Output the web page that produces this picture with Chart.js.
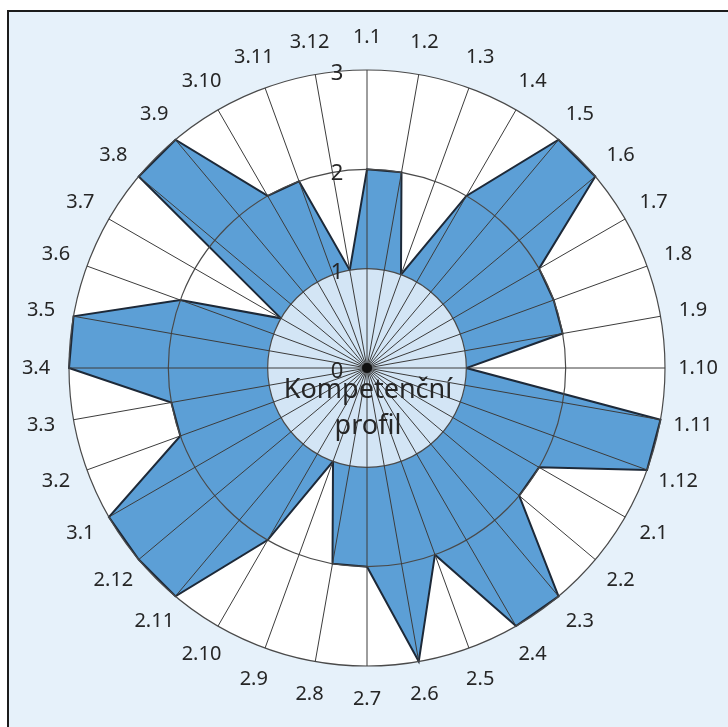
<!DOCTYPE html>
<html>
<head>
<meta charset="utf-8">
<script src="https://cdn.jsdelivr.net/npm/chart.js@4.4.1/dist/chart.umd.min.js"></script>
<style>
  html, body { margin: 0; padding: 0; background: #fff; }
  canvas { display: block; }
</style>
</head>
<body>
<canvas id="profil" width="728" height="727"></canvas>
<script>
// competence codes, clockwise from the top
const categories = [
  "1.1", "1.2", "1.3", "1.4", "1.5", "1.6", "1.7", "1.8", "1.9", "1.10", "1.11", "1.12",
  "2.1", "2.2", "2.3", "2.4", "2.5", "2.6", "2.7", "2.8", "2.9", "2.10", "2.11", "2.12",
  "3.1", "3.2", "3.3", "3.4", "3.5", "3.6", "3.7", "3.8", "3.9", "3.10", "3.11", "3.12"
];
const scores = [
  2, 2, 1, 2, 3, 3, 2, 2, 2, 1, 3, 3,
  2, 2, 3, 3, 2, 3, 2, 2, 1, 2, 3, 3,
  3, 2, 2, 3, 3, 2, 1, 3, 3, 2, 2, 1
];
const tickValues = [0, 1, 2, 3];
const centerTitle = ["Kompetenční", "profil"];

const textColor = "#262626";

// background, inner disc and all the text round the scale
const decorPlugin = {
  id: "decor",
  beforeDraw(chart) {
    const ctx = chart.ctx;
    const r = chart.scales.r;
    ctx.save();
    ctx.fillStyle = "#ffffff";
    ctx.fillRect(0, 0, chart.width, chart.height);
    ctx.fillStyle = "#e6f1fa";
    ctx.fillRect(8, 11, chart.width - 8, chart.height - 11);
    ctx.strokeStyle = "#1c1c1c";
    ctx.lineWidth = 2;
    ctx.beginPath();
    ctx.moveTo(8, chart.height);
    ctx.lineTo(8, 11);
    ctx.lineTo(chart.width, 11);
    ctx.stroke();
    ctx.fillStyle = "#ffffff";
    ctx.beginPath();
    ctx.arc(r.xCenter, r.yCenter, r.drawingArea, 0, Math.PI * 2);
    ctx.fill();
    ctx.restore();
  },
  afterDatasetsDraw(chart) {
    const ctx = chart.ctx;
    const r = chart.scales.r;
    ctx.save();
    ctx.fillStyle = "#d3e5f5";
    ctx.beginPath();
    ctx.arc(r.xCenter, r.yCenter, r.getDistanceFromCenterForValue(1), 0, Math.PI * 2);
    ctx.fill();
    ctx.restore();
  },
  afterDraw(chart) {
    const ctx = chart.ctx;
    const r = chart.scales.r;
    ctx.save();
    ctx.fillStyle = textColor;
    ctx.textAlign = "center";
    ctx.textBaseline = "middle";

    // category labels
    ctx.font = "20px 'Noto Sans'";
    categories.forEach((lab, i) => {
      const p = r.getPointPosition(i, r.drawingArea + 33);
      ctx.fillText(lab, p.x, p.y);
    });

    // value labels, a little left of the vertical spoke
    ctx.font = "22px 'Noto Sans'";
    tickValues.forEach(v => {
      const d = r.getDistanceFromCenterForValue(v);
      ctx.fillText(String(v), r.xCenter - 30, r.yCenter - d + 4);
    });

    // hub
    ctx.fillStyle = "#111";
    ctx.beginPath();
    ctx.arc(r.xCenter, r.yCenter, 5, 0, Math.PI * 2);
    ctx.fill();

    ctx.fillStyle = textColor;
    ctx.textBaseline = "alphabetic";
    ctx.font = "27px 'Noto Sans'";
    ctx.fillText(centerTitle[0], r.xCenter + 1, r.yCenter + 30);
    ctx.fillText(centerTitle[1], r.xCenter + 1, r.yCenter + 66);
    ctx.restore();
  }
};

const ctx = document.getElementById("profil").getContext("2d");

new Chart(ctx, {
  type: "radar",
  data: {
    labels: categories,
    datasets: [{
      data: scores,
      fill: true,
      backgroundColor: "#5c9fd6",
      borderColor: "#1d2938",
      borderWidth: 2,
      pointRadius: 0,
      pointHoverRadius: 0,
      tension: 0
    }]
  },
  options: {
    responsive: false,
    animation: false,
    events: [],
    layout: {
      padding: { left: 69, right: 63, top: 70, bottom: 61 }
    },
    plugins: {
      legend: { display: false },
      tooltip: { enabled: false }
    },
    scales: {
      r: {
        min: 0,
        max: 3,
        ticks: { stepSize: 1, display: false, z: 1 },
        pointLabels: { display: false },
        grid: { circular: true, color: "#4a4a4a", lineWidth: 1.2, z: 1 },
        border: { z: 1 },
        angleLines: { color: "#3c3c3c", lineWidth: 1 }
      }
    }
  },
  plugins: [decorPlugin]
});
</script>
</body>
</html>
